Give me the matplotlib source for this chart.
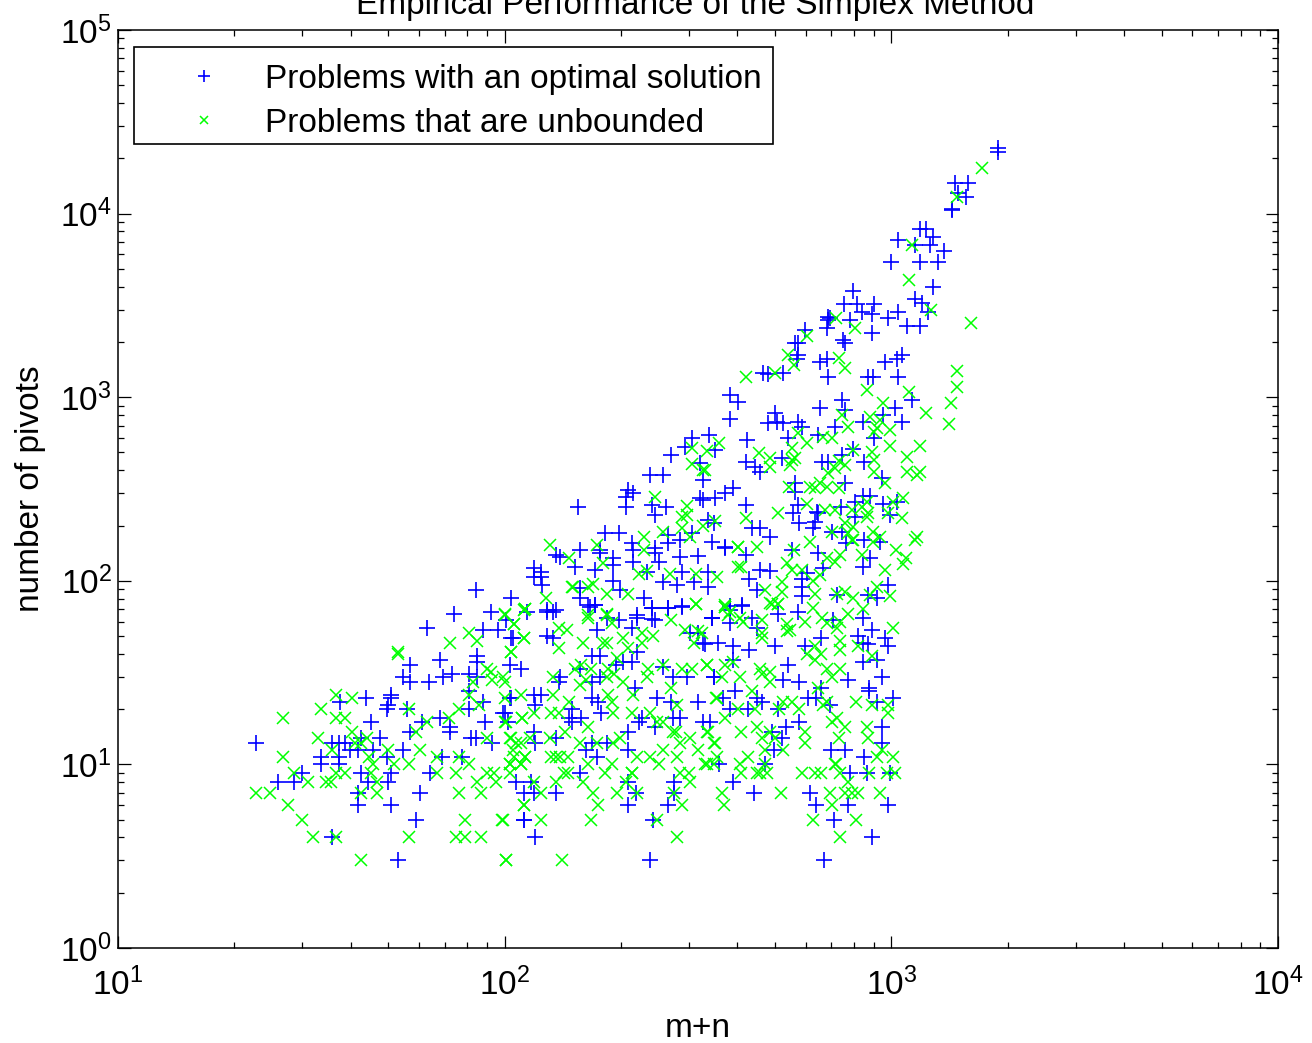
#!/usr/bin/env python3
"""Empirical performance of the simplex method: pivots against m+n."""

import matplotlib
matplotlib.use("Agg")
import matplotlib.pyplot as plt
import matplotlib.patches as patches
import numpy as np

# (m+n, pivots)
optimal_low = [
    (22.8,13),(25.9,8),(28.5,8),(29.9,9),(33.4,10),(33.4,11),(37.3,10),(37.3,11),(35.7,13),(37.3,13),(38.6,13),
    (39.8,12),(41.8,12),(35.7,4),(41.8,6),(41.8,7),(44.4,8),(42.5,9),(42.5,14),(43.8,23),(37.4,22),(45,17),
    (47.6,14),(45.6,12),(50.7,24),(50.7,23),(49.9,21),(49.5,20),(55.8,20),(49.9,8),(50.7,9),(50.7,6),(49.5,11),
    (54.7,12),(53,3),(59,5),(60.5,7),(64,9),(57,15),(61,17),(67.9,18),(72,16),(72,15),(82,14),(84.5,14),(93,13),
    (68.8,11),(77.6,11),(107,8),(112,7),(112,5),(63,55),(74,66),(92,68),(57,35),(68,37),(54.5,30),(57,28),(63.6,28),
    (69.4,30),(73,31),(81,31),(85,39),(85,36),(85,30),(81,25),(88,54),(96,54),(104,49),(103,35),(110,33),(104,23),
    (99,19),(102,17),(88,22),(81,20),(89,17),(84.5,89),
]
optimal_mid = [
    (237,3),(120,4),(112,5),(242,5),(209,6),(264,6),(136,7),(119,7),(219,7),(274,7),(274,8),(209,8),(117,8),
    (157,9),(173,11),(209,12),(162,12),(184,13),(168,13),(209,15),(136,14),(120,13),(119,15),(158,18),(147,18),
    (149,17),(149,20),(178,19),(226,18),(222,17),(245,16),(272,18),(284,18),(340,17),(326,17),(120,21),(100,19),
    (103,23),(119,24),(124,24),(138,28),(139,30),(157,33),(168,28),(168,23),(174,22),(176,30),(194,35),(202,36),
    (213,36),(220,41),(217,26),(248,23),(270,22),(316,22),(272,30),(257,34),(296,30),(347,30),(168,39),(176,39),
    (173,54),(197,61),(213,55),(220,63),(245,61),(241,71),(264,71),(287,73),(344,63),(301,52),(316,52),(326,46),
    (114,68),(129,68),(133,68),(164,74),(171,74),(101,61),(105,49),(129,50),(133,49),
]
optimal_right = [
    (670,3),(891,4),(711,5),(639,6),(773,6),(979,6),(617,7),(441,7),(389,8),(782,9),(865,9),(990,9),(849,11),
    (759,12),(698,12),(946,13),(946,16),(496,12),(471,10),(358,10),(521,14),(491,15),(533,16),(577,17),(427,20),
    (383,20),(509,20),(462,22),(450,23),(367,23),(394,25),(347,30),(525,29),(577,28),(541,35),(658,26),(610,23),
    (640,23),(693,21),(773,29),(877,26),(877,25),(918,22),(1009,23),(946,30),(918,37),(845,36),(820,50),(891,54),
    (963,49),(871,45),(845,46),(979,44),(658,49),(598,44),(501,44),(429,42),(389,44),(389,37),(356,46),(330,45),
    (450,55),(436,63),(383,59),(344,63),(509,66),(573,68),(707,61),(845,63),(411,73),(383,73),
]
optimal_upper = [
    (383,1028),(401,942),(383,760),(306,599),(337,622),(350,516),(292,535),(270,484),(320,436),(326,354),(238,377),
    (257,377),(320,282),(326,276),(350,281),(372,301),(389,320),(215,301),(209,312),(206,286),(206,252),(241,259),
    (261,252),(245,228),(155,252),(336,214),(347,206),(305,182),(264,177),(182,182),(197,182),(213,161),(215,147),
    (245,151),(245,142),(264,161),(284,167),(284,135),(344,163),(372,151),(316,136),(251,127),(215,127),(191,133),
    (191,122),(191,100),(157,147),(136,138),(139,135),(176,147),(176,142),(152,119),(171,114),(119,117),(124,112),
    (119,105),(124,105),(125,95),(233,112),(287,112),(279,95),(257,98),(308,98),(336,112),(336,93),(199,89),(229,81),
    (104,81),(157,91),(157,81),(166,72),(171,74),(241,71),(264,71),(287,72),(129,69),(136,69),(184,63),(220,65),
    (344,63),(383,69),(241,62),
]
optimal_top = [
    (1888,22770),(1888,21670),(1461,14680),(1578,14680),(1486,12950),(1561,12300),(1435,10590),(1435,10470),
    (1186,8240),(1230,8240),(1282,7460),(1040,7180),(1260,6740),(1151,6740),(1368,6250),(1321,5450),(1186,5450),
    (1000,5450),(1282,3990),(1151,3430),(1200,3260),(1245,2910),(795,3780),(753,3220),(815,3220),(902,3220),
    (840,2910),(891,2840),(1040,2910),(979,2700),(782,2630),(686,2730),(686,2630),(681,2380),(695,2700),(891,2230),
    (1096,2440),(1186,2440),(750,2050),(759,1970),(598,2320),(564,1970),(572,1970),(572,1700),(570,1610),(653,1560),
    (682,1620),(964,1560),(1064,1700),(1035,1620),(525,1355),(465,1355),(480,1340),(686,1290),(871,1290),(897,1290),
    (1040,1290),
]
optimal_band = [
    (653,873),(745,966),(759,851),(500,820),(480,723),(506,732),(525,723),(572,732),(587,688),(714,688),(645,622),
    (541,599),(424,585),(421,444),(444,417),(458,392),(521,466),(661,444),(686,444),(849,444),(745,484),(795,522),
    (845,732),(951,800),(1021,873),(1133,966),(1064,732),(902,599),(946,363),(759,341),(564,341),(564,305),(421,259),
    (572,259),(556,234),(577,206),(643,237),(645,234),(634,209),(627,194),(741,252),(805,269),(845,290),(881,290),
    (805,222),(951,262),(1035,269),(990,228),(702,184),(745,184),(764,161),(849,167),(933,163),(436,194),(458,194),
    (486,173),(372,153),(421,138),(553,147),(645,142),(881,133),(845,119),(665,117),(458,115),(486,113),(429,102),
    (450,89),(587,102),(604,110),(589,92),(979,95),(871,84),(918,81),(724,84),(587,83),(411,74),
]

unbounded_low = [
    (22.8,7),(24.7,7),(27.6,6),(30,5),(31.9,4),(36.7,4),(42.4,3),(56.6,4),(74.7,4),(78.9,4),(87,4),(79,5),(98.6,5),
    (101,3),(26.7,18),(26.7,11),(28.5,9),(31,8),(34.5,8),(35.6,8),(36.6,9),(38.7,9),(33,14),(33.4,20),(36.7,24),
    (36.7,18),(38.7,18),(40.4,23),(35.7,12),(40.4,15),(41,13),(42.5,13),(44,14),(44.7,11),(45.6,10),(45,9),(42.4,7),
    (46.8,7),(46.8,8),(49.9,12),(51.6,10),(56.6,10),(60.5,12),(67,11),(76,11),(67,9),(75,9),(81,10),(90,9),(94,9),
    (85,8),(95,8),(87,7),(76,7),(112,6),(59,15),(63,17),(71.7,18),(76,20),(56.6,20),(53,41),(53,40),(72,46),(81,52),
    (85,47),(104,41),(100,65),(113,70),(106,58),(112,49),(90,33),(92,32),(93,29),(99,30),(100,28),(83,28),(81,24),
    (86,21),(100,17),(90,14),(104,14),(105,12),(110,13),(106,11),(113,11),(103,10),(110,10),(103,9),(100,23),(110,24),
    (111,18),
]
unbounded_mid = [
    (101,3),(141,3),(279,4),(99,5),(124,5),(167,5),(248,5),(112,6),(174,6),(287,6),(124,7),(169,7),(195,7),(220,7),
    (274,7),(301,8),(159,8),(136,8),(119,8),(206,8),(213,9),(213,9),(146,9),(142,9),(182,9),(164,10),(190,10),(251,10),
    (284,9),(299,9),(333,10),(220,11),(238,11),(279,11),(316,12),(257,12),(284,13),(350,13),(301,14),(272,15),(278,15),
    (336,15),(248,17),(257,17),(238,19),(213,19),(191,19),(164,16),(143,15),(131,14),(157,13),(173,13),(191,13),(199,14),
    (139,11),(146,11),(132,11),(136,11),(110,10),(103,10),(113,11),(103,14),(107,13),(116,14),(132,19),(138,19),(119,19),
    (111,18),(101,17),(133,24),(147,22),(157,27),(133,30),(162,29),(152,33),(158,35),(167,33),(185,33),(192,31),(202,28),
    (184,30),(185,24),(190,22),(215,24),(235,33),(233,30),(270,26),(279,21),(257,35),(287,33),(305,33),(333,35),(352,23),
    (184,46),(180,46),(202,49),(209,43),(195,38),(159,46),(138,55),(145,54),(138,43),(164,63),(184,65),(190,59),(226,52),
    (242,50),(226,46),(270,61),(292,54),(316,53),(308,46),(104,41),(112,49),(106,58),(113,70),(313,75),
]
unbounded_right = [
    (736,4),(627,5),(811,5),(369,6),(702,6),(365,7),(519,7),(693,7),(759,7),(791,7),(820,7),(933,7),(773,8),(408,9),
    (450,9),(458,9),(477,9),(589,9),(634,9),(658,9),(736,9),(877,9),(975,9),(1021,9),(714,10),(720,10),(406,10),(471,10),
    (330,10),(347,10),(354,11),(427,11),(918,11),(1009,11),(525,12),(471,12),(347,13),(598,13),(948,12),(462,14),(501,14),
    (598,15),(733,14),(871,14),(486,15),(408,15),(450,16),(333,15),(702,17),(759,16),(865,16),(724,18),(372,18),(401,20),
    (444,20),(979,19),(979,21),(891,21),(577,20),(512,20),(665,21),(682,22),(811,22),(525,22),(553,22),(436,25),(354,23),
    (645,26),(406,30),(365,30),(486,28),(462,31),(486,32),(458,33),(682,33),(702,30),(736,33),(333,35),(372,35),(389,36),
    (634,44),(658,40),(634,37),(606,40),(736,47),(736,42),(820,44),(892,39),(464,52),(462,49),(1009,55),(377,65),(406,63),
    (414,60),(464,61),(536,58),(546,54),(536,53),(598,60),(627,71),(660,63),(682,59),(724,55),(736,60),(771,66),(845,70),
    (323,52),(372,72),(491,75),(509,75),
]
unbounded_upper = [
    (358,563),(306,529),(333,509),(306,433),(330,401),(326,401),(245,286),(296,255),(296,228),(287,222),(287,194),(326,199),
    (350,212),(257,184),(301,173),(229,173),(229,147),(173,157),(131,157),(147,133),(180,125),(222,109),(233,113),(268,109),
    (313,109),(354,105),(401,153),(401,119),(149,93),(150,92),(164,93),(169,96),(184,85),(209,85),(128,81),(112,69),(100,66),
    (313,75),(372,72),(383,68),(164,65),(184,66),
]
unbounded_top = [
    (1715,17700),(1479,12250),(1133,6740),(1111,4350),(1268,2985),(1607,2537),(721,2700),(805,2380),(604,2150),(541,1700),
    (560,1500),(732,1635),(759,1443),(1479,1390),(500,1355),(421,1290),(1430,930),(1410,714),(1479,1137),
]
unbounded_band = [
    (1230,820),(1111,1067),(951,930),(865,1095),(881,780),(933,752),(918,680),(990,662),(773,688),(745,800),(902,645),(990,542),
    (1186,542),(891,503),(795,516),(1096,472),(902,455),(902,392),(1100,392),(1164,377),(1186,392),(964,341),(455,497),(486,466),
    (486,417),(553,529),(553,455),(564,466),(546,426),(572,638),(606,563),(665,607),(702,599),(543,324),(617,324),(653,341),
    (681,324),(634,320),(732,320),(686,386),(714,411),(759,426),(732,449),(1009,269),(1074,281),(604,262),(421,220),(509,234),
    (714,243),(672,243),(791,243),(840,252),(865,269),(871,234),(865,222),(759,206),(795,196),(702,184),(773,182),(795,167),
    (791,167),(897,184),(933,173),(897,163),(1164,173),(1151,167),(979,234),(1064,220),(617,163),(401,153),(450,153),(560,147),
    (1028,147),(840,138),(681,133),(714,127),(736,138),(1091,133),(1074,123),(964,115),(408,119),(536,125),(553,115),(587,115),
    (653,107),(627,100),(521,98),(521,87),(471,89),(634,85),(724,85),(759,87),(795,81),(918,92),(881,84),(990,83),(486,76),
    (509,75),(372,74),
]

title_text = "Empirical Performance of the Simplex Method"
x_label = "m+n"
y_label = "number of pivots"
series_labels = ["Problems with an optimal solution", "Problems that are unbounded"]


def main():
    plt.rcParams["font.family"] = ["Liberation Sans", "DejaVu Sans"]
    plt.rcParams["mathtext.fontset"] = "custom"
    plt.rcParams["mathtext.rm"] = "Liberation Sans"
    plt.rcParams["mathtext.default"] = "regular"

    optimal = np.array(optimal_low + optimal_mid + optimal_right + optimal_upper + optimal_top + optimal_band)
    unbounded = np.array(unbounded_low + unbounded_mid + unbounded_right + unbounded_upper + unbounded_top + unbounded_band)

    fig = plt.figure(figsize=(13.12, 10.43), dpi=100)
    ax = fig.add_axes([118 / 1312, 1 - 948 / 1043, 1160 / 1312, 918 / 1043])

    ax.plot(optimal[:, 0], optimal[:, 1], "+", color="#0000ff", ms=11.5, mew=1.2, label=series_labels[0])
    ax.plot(unbounded[:, 0], unbounded[:, 1], "x", color="#00ff00", ms=8, mew=1.1, label=series_labels[1])

    ax.set_xscale("log")
    ax.set_yscale("log")
    ax.set_xlim(10, 1e4)
    ax.set_ylim(1, 1e5)

    ax.tick_params(which="major", direction="in", top=True, right=True, length=9, width=0.9, labelsize=24)
    ax.tick_params(which="minor", direction="in", top=True, right=True, length=4.5, width=0.9)
    ax.tick_params(axis="x", pad=14)
    ax.tick_params(axis="y", pad=4.5)
    for spine in ax.spines.values():
        spine.set_linewidth(1.1)

    ax.set_title(title_text, fontsize=24, pad=11.5, x=0.498)
    ax.set_xlabel(x_label, fontsize=24, labelpad=8)
    ax.set_ylabel(y_label, fontsize=24, labelpad=10)

    # Legend frame sits off-centre around the rows, so it is drawn on its own
    ax.add_patch(patches.Rectangle(
        (16 / 1160, 1 - 114 / 918), 639 / 1160, 97 / 918, transform=ax.transAxes,
        facecolor="white", edgecolor="black", linewidth=1.2, zorder=4.5,
    ))
    ax.legend(
        loc="upper left", bbox_to_anchor=(52.7 / 1160, 1 - 34 / 918), borderaxespad=0, borderpad=0, fontsize=24,
        numpoints=1, frameon=False, handlelength=2, handletextpad=0.83, labelspacing=0.39, markerscale=0.7,
    )

    fig.savefig("out.png", dpi=100)
    plt.close(fig)


if __name__ == "__main__":
    main()
